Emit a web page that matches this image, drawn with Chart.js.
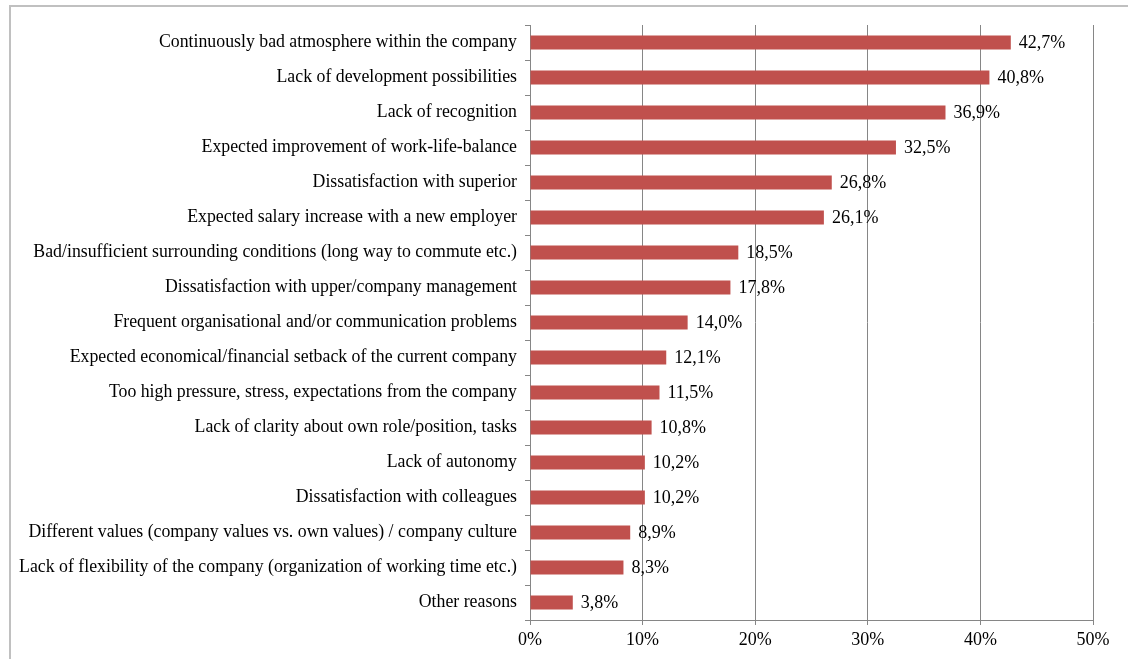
<!DOCTYPE html>
<html lang="en">
<head>
    <meta charset="UTF-8">
    <title>Reasons for leaving</title>
    <script src="https://cdn.jsdelivr.net/npm/chart.js"></script>
    <style>
        body {
            margin: 0;
            padding: 0;
            background-color: white;
        }
        .frame {
            position: absolute;
            left: 9px;
            top: 5px;
            width: 1130px;
            height: 660px;
            border-left: 2px solid #c0c0c0;
            border-top: 2px solid #c0c0c0;
        }
        .wrap {
            position: absolute;
            left: 0;
            top: 0;
            width: 1128px;
            height: 659px;
        }
    </style>
</head>
<body>
    <div class="frame"></div>
    <div class="wrap">
        <canvas id="grafico"></canvas>
    </div>

    <script>
        const categorias = [
            'Continuously bad atmosphere within the company',
            'Lack of development possibilities',
            'Lack of recognition',
            'Expected improvement of work-life-balance',
            'Dissatisfaction with superior',
            'Expected salary increase with a new employer',
            'Bad/insufficient surrounding conditions (long way to commute etc.)',
            'Dissatisfaction with upper/company management',
            'Frequent organisational and/or communication problems',
            'Expected economical/financial setback of the current company',
            'Too high pressure, stress, expectations from the company',
            'Lack of clarity about own role/position, tasks',
            'Lack of autonomy',
            'Dissatisfaction with colleagues',
            'Different values (company values vs. own values) / company culture',
            'Lack of flexibility of the company (organization of working time etc.)',
            'Other reasons'
        ];
        const valores = [42.7, 40.8, 36.9, 32.5, 26.8, 26.1, 18.5, 17.8, 14.0, 12.1, 11.5, 10.8, 10.2, 10.2, 8.9, 8.3, 3.8];

        const fonte = "'Liberation Serif', 'Times New Roman', serif";

        // rotulos com virgula decimal ao lado de cada barra
        const rotulos = {
            id: 'rotulos',
            afterDatasetsDraw(chart) {
                const ctx = chart.ctx;
                const meta = chart.getDatasetMeta(0);
                ctx.save();
                ctx.font = '18px ' + fonte;
                ctx.fillStyle = '#000';
                ctx.textBaseline = 'middle';
                ctx.textAlign = 'left';
                meta.data.forEach((bar, i) => {
                    const txt = valores[i].toFixed(1).replace('.', ',') + '%';
                    ctx.fillText(txt, bar.x + 8, bar.y + 1);
                });
                ctx.restore();
            }
        };

        new Chart(document.getElementById('grafico'), {
            type: 'bar',
            data: {
                labels: categorias,
                datasets: [{
                    data: valores,
                    backgroundColor: '#c0504d',
                    borderWidth: 0,
                    barPercentage: 0.4,
                    categoryPercentage: 1
                }]
            },
            options: {
                indexAxis: 'y',
                responsive: true,
                maintainAspectRatio: false,
                animation: false,
                layout: {
                    padding: { top: 25, right: 35, left: 0, bottom: 0 }
                },
                plugins: {
                    legend: { display: false },
                    tooltip: { enabled: false }
                },
                scales: {
                    x: {
                        min: 0,
                        max: 50,
                        ticks: {
                            stepSize: 10,
                            color: '#000',
                            font: { family: fonte, size: 18 },
                            padding: 4,
                            callback: v => v + '%'
                        },
                        grid: {
                            color: '#868686',
                            lineWidth: 1,
                            tickLength: 5
                        },
                        border: { color: '#868686' },
                        afterFit: scale => { scale.height = 39; }
                    },
                    y: {
                        ticks: {
                            color: '#000',
                            font: { family: fonte, size: 17.8 },
                            padding: 8,
                            autoSkip: false
                        },
                        grid: {
                            offset: true,
                            drawOnChartArea: false,
                            color: '#868686',
                            tickLength: 5
                        },
                        border: { color: '#868686' },
                        afterFit: scale => { scale.width = 530; }
                    }
                }
            },
            plugins: [rotulos]
        });
    </script>
</body>
</html>
